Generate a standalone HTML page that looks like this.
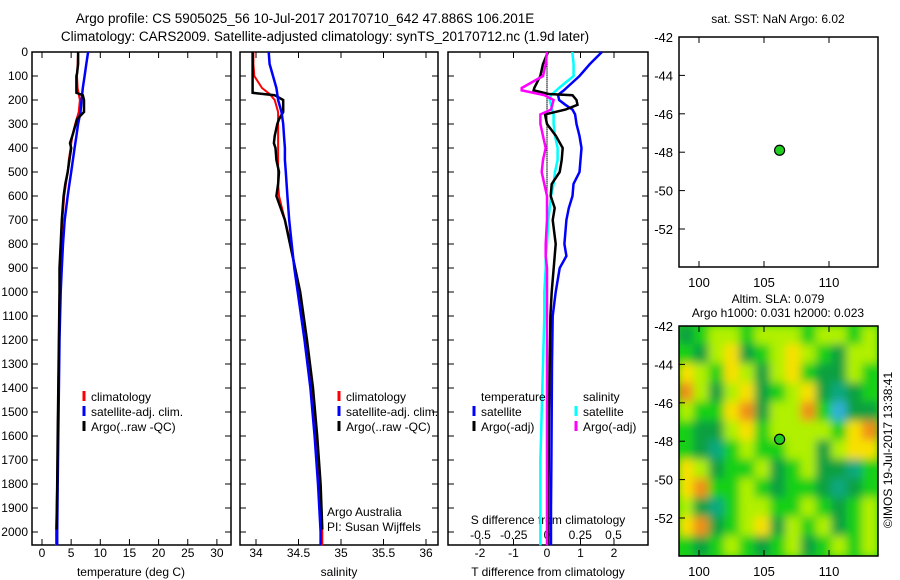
<!DOCTYPE html>
<html><head><meta charset="utf-8"><style>
body{margin:0;background:#fff;}
svg{display:block;font-family:"Liberation Sans",sans-serif;}
text{fill:#000;}
</style></head><body>
<svg id="c" width="900" height="580" viewBox="0 0 900 580">
<defs>
<filter id="blur" x="-5%" y="-5%" width="110%" height="110%"><feGaussianBlur stdDeviation="4.5"/></filter>
<clipPath id="mapclip"><rect x="679" y="326" width="199" height="230"/></clipPath>
</defs>
<g font-size="13.5" text-anchor="middle">
<text x="305" y="23">Argo profile: CS 5905025_56 10-Jul-2017 20170710_642 47.886S 106.201E</text>
<text x="325" y="41">Climatology: CARS2009. Satellite-adjusted climatology: synTS_20170712.nc (1.9d later)</text>
</g>
<g id="plots"></g>
</svg>
<script>
// ---- data ----
const tDepths = [0,50,100,150,175,200,250,300,350,400,450,500,550,600,700,800,900,1000,1200,1400,1600,1800,2000,2055];
const tempClim = [6.2,6.1,6.0,6.1,6.3,6.5,6.3,5.7,5.2,4.9,4.6,4.4,4.1,3.8,3.5,3.3,3.1,3.0,2.9,2.8,2.7,2.6,2.4,2.4];
const tempSat = [7.9,7.6,7.3,7.0,6.9,6.8,6.6,6.2,5.9,5.6,5.3,5.0,4.7,4.4,3.9,3.6,3.4,3.2,3.0,2.9,2.8,2.7,2.6,2.6];
const argoDepths = [0,50,90,100,170,180,200,250,280,300,350,380,400,450,500,550,600,700,800,900,1000,1200,1400,1600,1800,1990];
const tempArgo = [6.2,6.2,6.0,5.9,5.9,7.0,7.2,7.2,6.0,5.8,5.2,4.8,5.0,4.7,4.4,4.0,3.7,3.4,3.2,3.0,3.0,2.9,2.8,2.7,2.6,2.5];
const salClim = [33.97,33.97,33.98,34.07,34.16,34.22,34.26,34.26,34.26,34.26,34.26,34.26,34.26,34.27,34.34,34.41,34.46,34.51,34.58,34.66,34.71,34.75,34.78,34.78];
const salSat = [34.15,34.16,34.20,34.24,34.25,34.26,34.30,34.32,34.33,34.34,34.34,34.35,34.36,34.37,34.39,34.42,34.45,34.49,34.57,34.64,34.69,34.73,34.76,34.76];
const salArgo = [33.96,33.96,33.96,33.96,33.96,34.22,34.32,34.32,34.27,34.25,34.22,34.21,34.23,34.24,34.27,34.26,34.24,34.34,34.40,34.46,34.52,34.60,34.67,34.72,34.76,34.78];
const dDepths = [0,50,100,150,160,175,180,200,220,240,260,300,350,400,450,500,550,600,650,700,800,850,900,1000,1100,1300,1500,1700,1900,2055];
const tDiffSat = [1.64,1.28,0.97,0.58,0.50,0.36,0.33,0.36,0.55,0.76,0.84,0.88,0.97,1.03,1.0,0.97,0.79,0.76,0.65,0.58,0.52,0.58,0.38,0.26,0.17,0.15,0.14,0.13,0.12,0.12];
const tDiffArgo = [0.03,-0.12,-0.2,-0.38,-0.4,0.05,0.76,0.88,0.91,0.55,-0.06,0,0.27,0.47,0.44,0.38,0.14,0.11,0.23,0.17,0.26,0.23,0.2,0.14,0.1,0.08,0.06,0.05,0.04,0.04];
const sDiffArgo = [0,-0.01,-0.03,-0.19,-0.19,-0.06,-0.02,0.05,0.04,0.03,-0.05,-0.05,-0.03,-0.01,-0.03,-0.04,-0.02,0,0,0,-0.01,-0.01,0,0,0,0,0,0,0,0];
const sDiffSat = [0.19,0.2,0.2,0.09,0.07,0.04,0.03,0.02,0.03,0.04,0.05,0.05,0.06,0.08,0.08,0.06,0.05,0.03,0.02,0.01,0,-0.01,-0.01,-0.02,-0.02,-0.03,-0.04,-0.05,-0.05,-0.05];
const depthTicks = [0,100,200,300,400,500,600,700,800,900,1000,1100,1200,1300,1400,1500,1600,1700,1800,1900,2000];
const tempTicks = [0,5,10,15,20,25,30];
const salTicks = [34,34.5,35,35.5,36];
const tDiffTicks = [-2,-1,0,1,2];
const sDiffTicks = [-0.5,-0.25,0,0.25,0.5];
const sDiffTickLabels = ["-0.5","-0.25","0","0.25","0.5"];
const latTicks = [-42,-44,-46,-48,-50,-52];
const lonTicks = [100,105,110];
const argoLon = 106.2, argoLat = -47.9;
const slaGrid = [
[-1,0,1,1,0,1,1,1,0,1,1,0,1],
[0,-1,1,2,-1,0,1,2,1,0,-1,1,1],
[2,1,0,2,1,-1,1,2,0,-1,-1,1,0],
[3,1,-1,1,2,-1,0,1,2,-1,-2,-1,0],
[1,0,0,2,3,-1,1,1,3,0,-3,-1,-1],
[0,-1,-1,1,2,0,1,1,1,1,0,2,3],
[0,-1,-2,0,1,0,0,1,1,-1,1,2,2],
[2,1,-1,0,0,1,-1,0,1,-1,-1,-2,0],
[2,3,0,0,1,0,-1,0,0,-1,-2,-1,0],
[1,-1,-2,0,1,1,0,0,1,0,-1,0,1],
[2,3,-1,0,1,2,-1,1,0,1,-1,0,1],
[0,-1,0,1,0,-1,0,1,-1,0,1,0,1]];
const slaColors = {"-3":"#30b0d8","-2":"#10a880","-1":"#08a040","0":"#18d018","1":"#b0f000","2":"#f8e000","3":"#f09018"};

// ---- helpers ----
const NS = "http://www.w3.org/2000/svg";
const root = document.getElementById('plots');
function mk(tag, attrs, parent){const e=document.createElementNS(NS,tag);for(const k in attrs)e.setAttribute(k,attrs[k]);(parent||root).appendChild(e);return e;}
function txt(x,y,s,anchor,size,parent){const t=mk('text',{x:x,y:y,'text-anchor':anchor||'start','font-size':size||12},parent);t.textContent=s;return t;}
const PT=52, PB=545;
const yD = d => 52 + d*0.24;
const xT = v => 42 + v*5.83;
const xS = v => 256 + (v-34)*85;
const xTD = v => 547 + v*33.5;
const xSD = v => 547 + v*133;

function panel(x0,x1,name){
  const g=mk('g',{});
  
  
  mk('rect',{x:x0,y:PT,width:x1-x0,height:PB-PT,fill:'none',stroke:'#000','stroke-width':1.5},g);
  depthTicks.forEach(d=>{mk('line',{x1:x0,x2:x0+6,y1:yD(d),y2:yD(d),stroke:'#000'},g);mk('line',{x1:x1-6,x2:x1,y1:yD(d),y2:yD(d),stroke:'#000'},g);});
  return g;
}
function line(g,xs,ds,fx,color,w,name){
  const pts=xs.map((v,i)=>fx(v).toFixed(1)+','+yD(ds[i]).toFixed(1)).join(' ');
  const p=mk('polyline',{points:pts,fill:'none',stroke:color,'stroke-width':w,'stroke-linejoin':'miter'},g);
  
  
}
function xticks(g,x0,x1,ticks,fx,labels,ly){
  ticks.forEach((t,i)=>{const x=fx(t);mk('line',{x1:x,x2:x,y1:PB,y2:PB-6,stroke:'#000'},g);mk('line',{x1:x,x2:x,y1:PT,y2:PT+6,stroke:'#000'},g);txt(x,ly,labels?labels[i]:String(t),'middle',12,g);});
}
function legendItem(g,x,y,color,label){mk('line',{x1:x,x2:x,y1:y-10,y2:y,stroke:color,'stroke-width':3},g);txt(x+7,y,label,'start',12,g);}

// ---- panel 1 ----
const g1=panel(32,231,'temperature-panel');
depthTicks.forEach(d=>txt(28,yD(d)+4,String(d),'end',12,g1));
xticks(g1,32,231,tempTicks,xT,null,557);
txt(131,576,'temperature (deg C)','middle',12,g1);
line(g1,tempClim,tDepths,xT,'#ff0000',2,'temp-climatology-line');
line(g1,tempSat,tDepths,xT,'#0000ff',2.5,'temp-satellite-line');
line(g1,tempArgo,argoDepths,xT,'#000000',2.5,'temp-argo-line');
legendItem(g1,84,401,'#ff0000','climatology');
legendItem(g1,84,416,'#0000ff','satellite-adj. clim.');
legendItem(g1,84,431,'#000000','Argo(..raw -QC)');

// ---- panel 2 ----
const g2=panel(240,438,'salinity-panel');
xticks(g2,240,438,salTicks,xS,['34','34.5','35','35.5','36'],557);
txt(339,576,'salinity','middle',12,g2);
line(g2,salClim,tDepths,xS,'#ff0000',2,'sal-climatology-line');
line(g2,salArgo,argoDepths,xS,'#000000',2.5,'sal-argo-line');
line(g2,salSat,tDepths,xS,'#0000ff',2.5,'sal-satellite-line');
legendItem(g2,339,401,'#ff0000','climatology');
legendItem(g2,339,416,'#0000ff','satellite-adj. clim.');
legendItem(g2,339,431,'#000000','Argo(..raw -QC)');
txt(327,516,'Argo Australia','start',12,g2);
txt(327,531,'PI: Susan Wijffels','start',12,g2);

// ---- panel 3 ----
const g3=panel(448,648,'difference-panel');
xticks(g3,448,648,tDiffTicks,xTD,null,557);
sDiffTicks.forEach((t,i)=>txt(xSD(t),539,sDiffTickLabels[i],'middle',12,g3));
txt(548,524,'S difference from climatology','middle',12,g3);
txt(548,576,'T difference from climatology','middle',12,g3);
for(let d=0;d<600;d+=8){mk('line',{x1:547,x2:547,y1:yD(d),y2:yD(d)+1.5,stroke:'#000'},g3);}
line(g3,sDiffSat,dDepths,xSD,'#00ffff',2.5,'sal-diff-satellite-line');
line(g3,tDiffSat,dDepths,xTD,'#0000ff',2.5,'temp-diff-satellite-line');
line(g3,tDiffArgo,dDepths,xTD,'#000000',2.5,'temp-diff-argo-line');
line(g3,sDiffArgo,dDepths,xSD,'#ff00ff',2.5,'sal-diff-argo-line');
txt(481,401,'temperature','start',12,g3);
txt(583,401,'salinity','start',12,g3);
legendItem(g3,474,416,'#0000ff','satellite');
legendItem(g3,474,431,'#000000','Argo(-adj)');
legendItem(g3,576,416,'#00ffff','satellite');
legendItem(g3,576,431,'#ff00ff','Argo(-adj)');

// ---- maps ----
function map(y0,name){
  const g=mk('g',{});
  
  
  const fx=lon=>699+(lon-100)*13, fy=lat=>y0+(-42-lat)*19.2;
  return {g,fx,fy,y0};
}
function mapFrame(m){
  const {g,fx,fy,y0}=m;
  mk('rect',{x:679,y:y0,width:199,height:230,fill:'none',stroke:'#000','stroke-width':1.5},g);
  latTicks.forEach(l=>{const y=fy(l);mk('line',{x1:679,x2:685,y1:y,y2:y,stroke:'#000'},g);txt(673,y+5,String(l),'end',13,g);});
  lonTicks.forEach(l=>{const x=fx(l);mk('line',{x1:x,x2:x,y1:y0,y2:y0+6,stroke:'#000'},g);mk('line',{x1:x,x2:x,y1:y0+230,y2:y0+224,stroke:'#000'},g);txt(x,y0+250,String(l),'middle',13,g);});
  const c=mk('circle',{cx:fx(argoLon),cy:fy(argoLat),r:5,fill:'#22cc22',stroke:'#000','stroke-width':1.2},g);
  
  
}
const m1=map(37,'sst-map');
txt(778,23,'sat. SST: NaN  Argo: 6.02','middle',12,m1.g);
mapFrame(m1);

const m2=map(326,'sla-map');
txt(778,303,'Altim. SLA: 0.079','middle',12,m2.g);
txt(778,317,'Argo h1000: 0.031 h2000: 0.023','middle',12,m2.g);
const hc=mk('g',{'clip-path':'url(#mapclip)'},m2.g);
mk('rect',{x:679,y:326,width:199,height:230,fill:'#18d018'},hc);
const hb=mk('g',{filter:'url(#blur)'},hc);
const cw=199/slaGrid[0].length, ch=230/slaGrid.length;
slaGrid.forEach((row,r)=>row.forEach((v,c)=>{
  const cell=mk('rect',{x:(679+c*cw-1).toFixed(1),y:(326+r*ch-1).toFixed(1),width:(cw+2).toFixed(1),height:(ch+2).toFixed(1),fill:slaColors[String(v)]},hb);
  
  
}));
mapFrame(m2);
const cr=txt(0,0,'©IMOS 19-Jul-2017 13:38:41','middle',12,root);
cr.setAttribute('transform','translate(892,450) rotate(-90)');


</script>
</body></html>
